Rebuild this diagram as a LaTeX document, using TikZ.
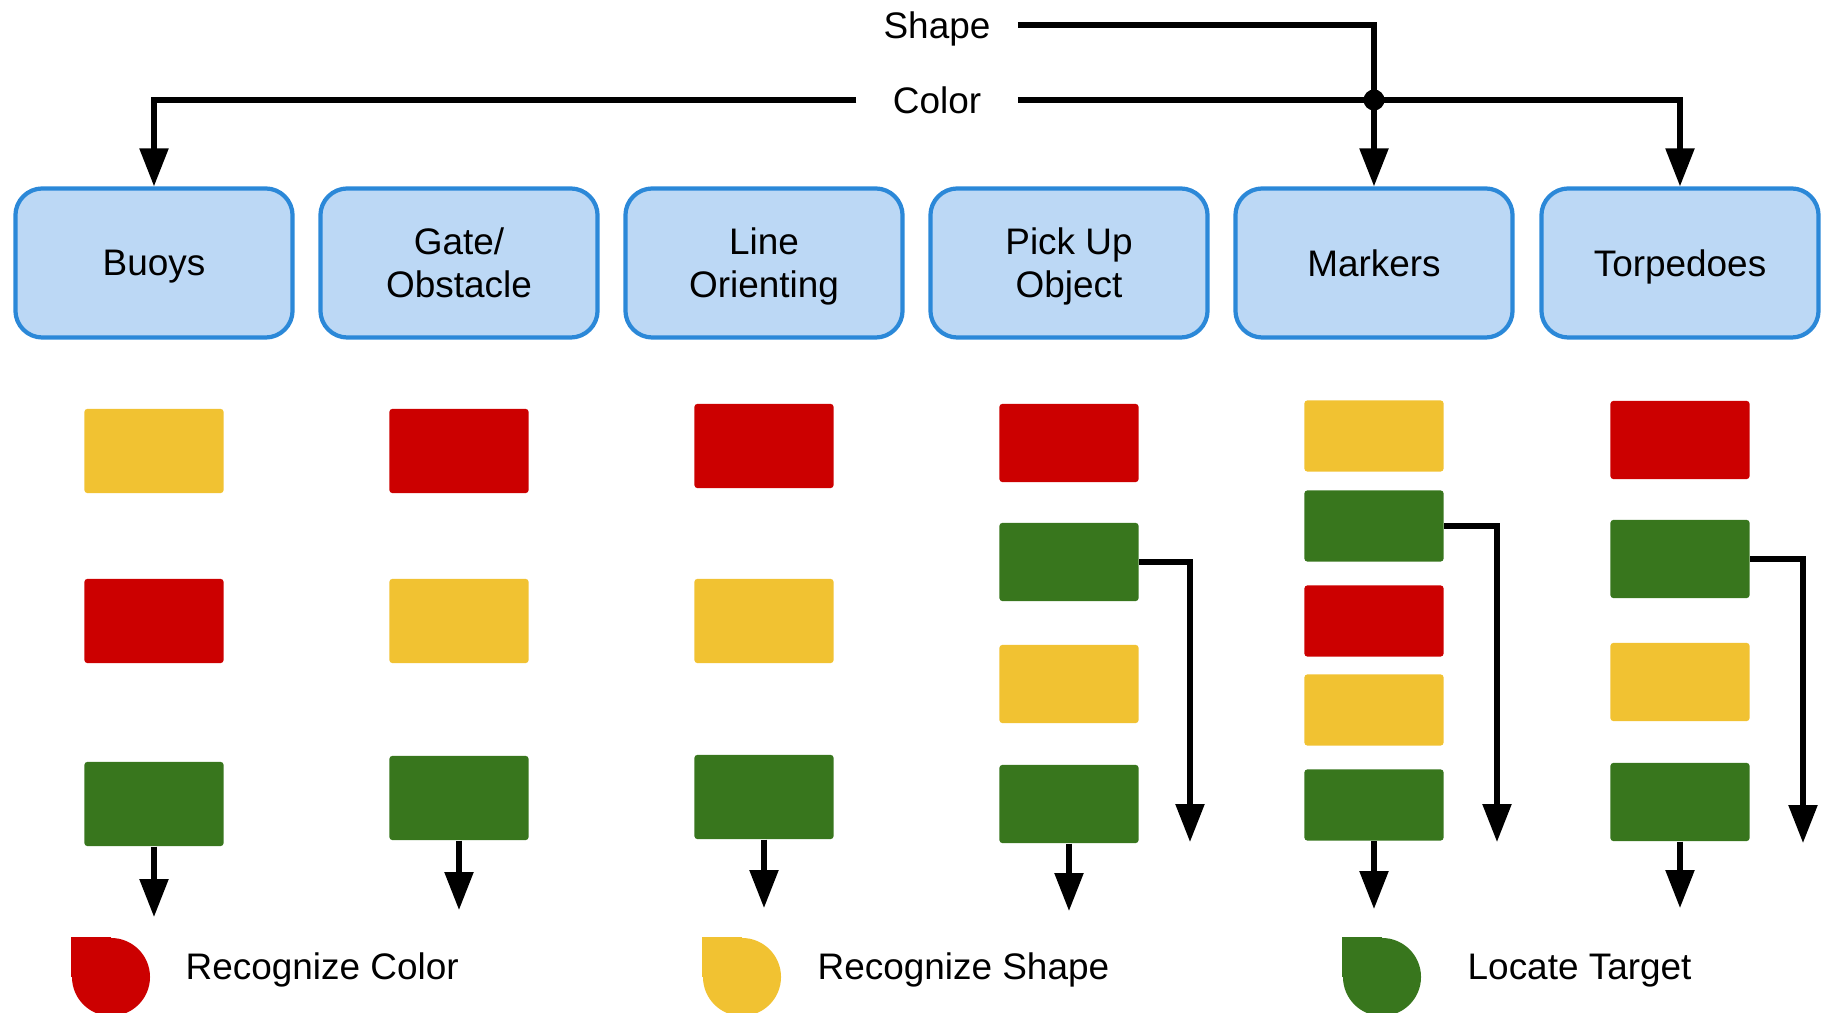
\documentclass[tikz,border=0pt]{standalone}
\usepackage{fontspec}
\setmainfont{Liberation Sans}
\usetikzlibrary{arrows.meta}
\definecolor{cR}{HTML}{CC0000}
\definecolor{cY}{HTML}{F1C232}
\definecolor{cG}{HTML}{38761D}
\definecolor{cBox}{HTML}{BCD8F5}
\definecolor{cLine}{HTML}{2B88D8}
\tikzset{
    BX/.style ={rectangle, rounded corners=0.27cm, minimum width=2.77cm, minimum height=1.49cm, draw=cLine, line width=1.2pt, fill=cBox, align=center, text depth=0pt},
    RA/.style ={rectangle, rounded corners=0.8pt, minimum width=1.39cm, minimum height=0.84cm, inner sep=0pt},
    RB/.style ={rectangle, rounded corners=0.8pt, minimum width=1.39cm, minimum height=0.78cm, inner sep=0pt},
    RC/.style ={rectangle, rounded corners=0.8pt, minimum width=1.39cm, minimum height=0.71cm, inner sep=0pt},
    LB/.style ={minimum width=1.6cm, inner sep=0pt, text depth=0pt},
    KY/.style ={circle, inner sep=0pt, minimum size=0.78cm},
    AR/.style ={line width=1.45pt, -{Triangle[length=10.8pt, width=8pt]}}}

\begin{document}
\begin{tikzpicture}[x=0.01cm, y=-0.01cm, font=\fontsize{10.5}{12.3}\selectfont]
        \useasboundingbox (0,0) rectangle (1829,1013);
        % cues
        \node[LB] (sh) at (937,25) {Shape};
        \node[LB] (co) at (937,100) {Color};
        \node[circle, fill, inner sep=0pt, minimum size=0.21cm] (jn) at (1374,100) {};
        % tasks
        \node[BX] (buoy) at (154,263) {Buoys};
        \node[BX] (gate) at (459,263) {Gate/\\Obstacle};
        \node[BX] (line) at (764,263) {Line\\Orienting};
        \node[BX] (pick) at (1069,263) {Pick Up\\Object};
        \node[BX] (mark) at (1374,263) {Markers};
        \node[BX] (torp) at (1680,263) {Torpedoes};
        % tiles
        \node[RA, fill=cY] (b1) at (154,451) {};
        \node[RA, fill=cR] (b2) at (154,621) {};
        \node[RA, fill=cG] (b3) at (154,804) {};
        \node[RA, fill=cR] (g1) at (459,451) {};
        \node[RA, fill=cY] (g2) at (459,621) {};
        \node[RA, fill=cG] (g3) at (459,798) {};
        \node[RA, fill=cR] (l1) at (764,446) {};
        \node[RA, fill=cY] (l2) at (764,621) {};
        \node[RA, fill=cG] (l3) at (764,797) {};
        \node[RB, fill=cR] (p1) at (1069,443) {};
        \node[RB, fill=cG] (p2) at (1069,562) {};
        \node[RB, fill=cY] (p3) at (1069,684) {};
        \node[RB, fill=cG] (p4) at (1069,804) {};
        \node[RC, fill=cY] (m1) at (1374,436) {};
        \node[RC, fill=cG] (m2) at (1374,526) {};
        \node[RC, fill=cR] (m3) at (1374,621) {};
        \node[RC, fill=cY] (m4) at (1374,710) {};
        \node[RC, fill=cG] (m5) at (1374,805) {};
        \node[RB, fill=cR] (d1) at (1680,440) {};
        \node[RB, fill=cG] (d2) at (1680,559) {};
        \node[RB, fill=cY] (d3) at (1680,682) {};
        \node[RB, fill=cG] (d4) at (1680,802) {};
        % arrow ends
        \coordinate (be) at (154,917);
        \coordinate (ge) at (459,910);
        \coordinate (le) at (764,908);
        \coordinate (pe) at (1069,911);
        \coordinate (me) at (1374,909);
        \coordinate (de) at (1680,908);
        \coordinate (ps) at (1190,842);
        \coordinate (ms) at (1497,842);
        \coordinate (ds) at (1803,843);
        % connectors
        \draw[AR] (sh.east) -| (mark.north);
        \draw[AR] (co.west) -| (buoy.north);
        \draw[AR] (co.east) -| (torp.north);
        \draw[AR] (b3.south) -- (be);
        \draw[AR] (g3.south) -- (ge);
        \draw[AR] (l3.south) -- (le);
        \draw[AR] (p4.south) -- (pe);
        \draw[AR] (m5.south) -- (me);
        \draw[AR] (d4.south) -- (de);
        \draw[AR] (p2.east) -| (ps);
        \draw[AR] (m2.east) -| (ms);
        \draw[AR] (d2.east) -| (ds);
        % key
        \node[KY, fill=cR] (k1) at (111,977) {};
        \fill[cR] (k1.west) rectangle (k1.north);
        \node[anchor=base west, inner sep=0pt] (k1t) at (185,980) {Recognize Color};
        \node[KY, fill=cY] (k2) at (742,977) {};
        \fill[cY] (k2.west) rectangle (k2.north);
        \node[anchor=base west, inner sep=0pt] (k2t) at (817,980) {Recognize Shape};
        \node[KY, fill=cG] (k3) at (1382,977) {};
        \fill[cG] (k3.west) rectangle (k3.north);
        \node[anchor=base west, inner sep=0pt] (k3t) at (1467,980) {Locate Target};
\end{tikzpicture}
\end{document}
